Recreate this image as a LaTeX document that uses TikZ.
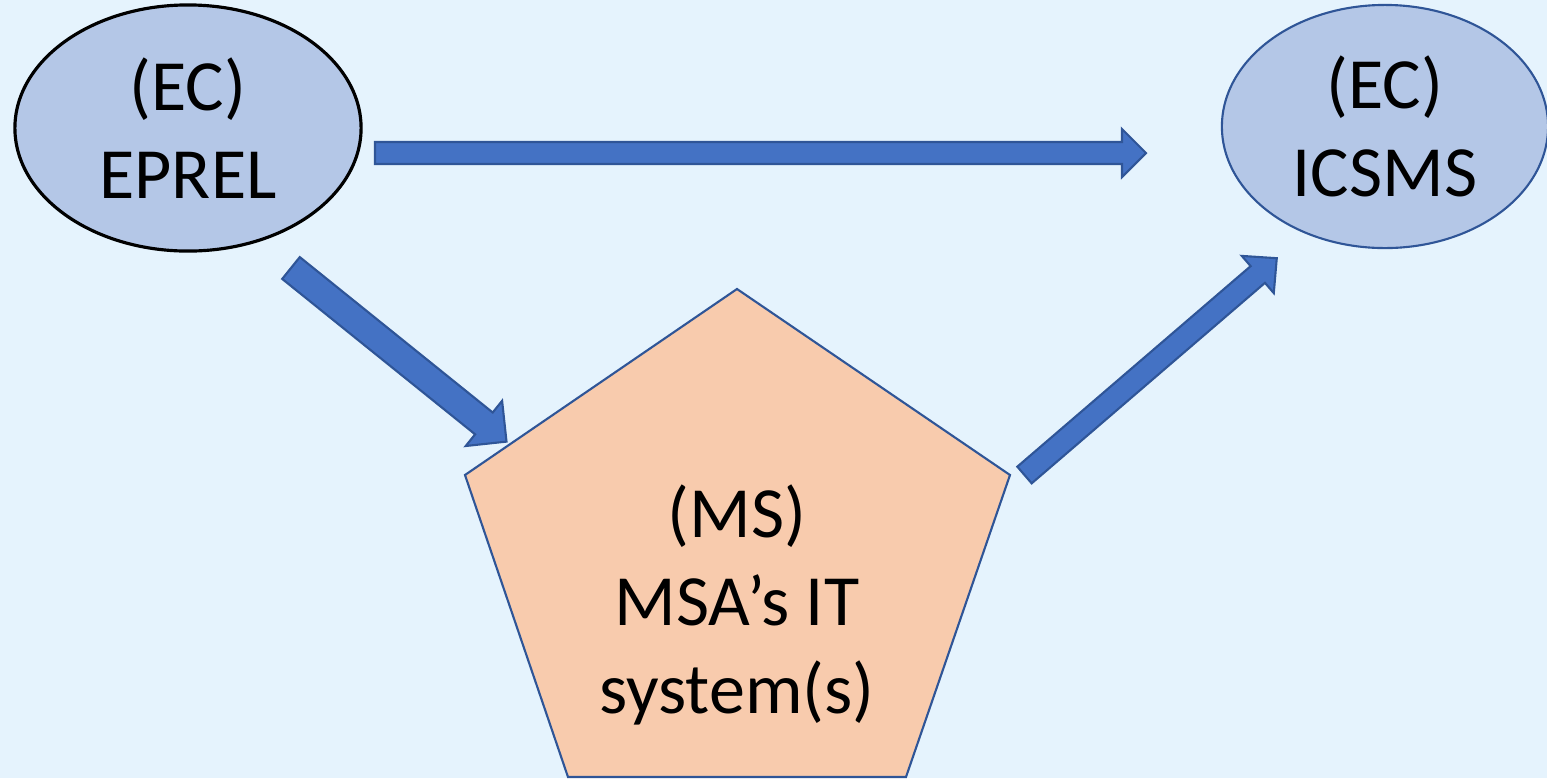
\documentclass[tikz,border=0pt]{standalone}
\usepackage{fontspec}
\setmainfont{Carlito}
\usetikzlibrary{shapes.geometric,calc}

\definecolor{bgblue}{HTML}{E5F3FD}
\definecolor{ecfill}{HTML}{B4C7E7}
\definecolor{msfill}{HTML}{F8CBAD}
\definecolor{flowfill}{HTML}{4472C4}
\definecolor{edgeblue}{HTML}{2F5597}

\tikzset{
    system/.style={ellipse, fill=ecfill, draw=edgeblue, line width=0.6pt, inner sep=0pt, align=center, font=\fontsize{20.5}{25}\selectfont},
    flow/.style={fill=flowfill, draw=edgeblue, line width=0.6pt, line join=miter},
}

% block arrow: from, to, half shaft width, half head width, head length
\newcommand\blockarrow[5]{%
    \draw[flow] let \p1 = ($(#2)-(#1)$), \n1 = {atan2(\y1,\x1)}, \n2 = {veclen(\x1,\y1)} in
        [shift={(#1)}, rotate=\n1]
        (0pt,-#3) -- ({\n2-#5},-#3) -- ({\n2-#5},-#4) -- ({\n2+0pt},0pt) -- ({\n2-#5},#4) -- ({\n2-#5},#3) -- (0pt,#3) -- cycle;}

\begin{document}
\begin{tikzpicture}[x=0.01cm, y=-0.01cm]
    \fill[bgblue] (0,0) rectangle (1547,778);
    \useasboundingbox (0,0) rectangle (1547,778);

    \node[system, draw=black, line width=0.9pt, minimum width=3.46cm, minimum height=2.46cm] (eprel) at (188,128) {(EC)\\EPREL};
    \node[system, minimum width=3.26cm, minimum height=2.43cm] (icsms) at (1385,126.5) {(EC)\\ICSMS};

    \draw[fill=msfill, draw=edgeblue, line width=0.6pt] (737,289) -- (1010,475) -- (906,777) -- (568,777) -- (465,475) -- cycle;
    \node[align=center, font=\fontsize{20.5}{25}\selectfont] (msa) at (737,605) {(MS)\\MSA’s IT\\system(s)};

    \coordinate (eprel-out) at (375,153);
    \coordinate (icsms-in) at (1146,153);
    \coordinate (eprel-down) at (291,268);
    \coordinate (msa-in) at (507,442);
    \coordinate (msa-out) at (1024.5,475);
    \coordinate (icsms-up) at (1277,258);

    \blockarrow{eprel-out}{icsms-in}{0.11cm}{0.24cm}{0.24cm}
    \blockarrow{eprel-down}{msa-in}{0.14cm}{0.29cm}{0.29cm}
    \blockarrow{msa-out}{icsms-up}{0.11cm}{0.245cm}{0.25cm}
\end{tikzpicture}
\end{document}
